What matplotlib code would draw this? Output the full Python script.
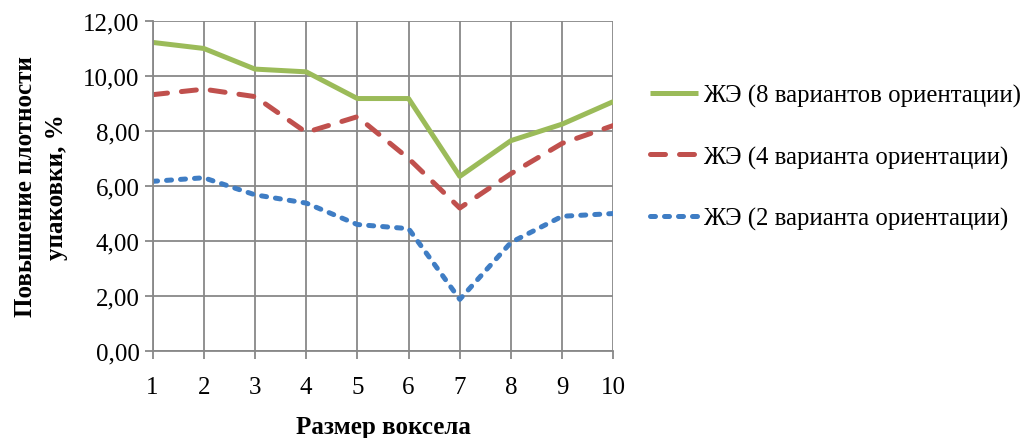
"""
Повышение плотности упаковки в зависимости от размера вокселя.
"""
import matplotlib.pyplot as plt
from matplotlib.ticker import FuncFormatter

# -------------------- Data --------------------
voxel = [1, 2, 3, 4, 5, 6, 7, 8, 9, 10]
zhe_8 = [11.22, 11.00, 10.25, 10.15, 9.18, 9.18, 6.35, 7.65, 8.25, 9.07]
zhe_4 = [9.32, 9.52, 9.25, 7.95, 8.52, 7.00, 5.20, 6.45, 7.55, 8.20]
zhe_2 = [6.17, 6.30, 5.68, 5.38, 4.60, 4.45, 1.88, 3.95, 4.90, 5.00]

labels = [
    "ЖЭ (8 вариантов ориентации)",
    "ЖЭ (4 варианта ориентации)",
    "ЖЭ (2 варианта ориентации)",
]
yticks = [0, 2, 4, 6, 8, 10, 12]

# -------------------- Style --------------------
plt.rcParams["font.family"] = ["Liberation Serif", "DejaVu Serif"]
grid_col = "#888888"

fig = plt.figure(figsize=(10.24, 4.39), dpi=100)
ax = fig.add_axes([0.149, 0.198, 0.450, 0.752])

ax.plot(voxel, zhe_8, color="#9BBB59", lw=3.6, solid_capstyle="butt", label=labels[0])
ax.plot(voxel, zhe_4, color="#C0504D", lw=3.6, linestyle=(0, (3.0, 2.8)),
        dash_capstyle="round", label=labels[1])
ax.plot(voxel, zhe_2, color="#3F7DC4", lw=3.6, linestyle=(0, (1.0, 1.8)),
        dash_capstyle="round", label=labels[2])

ax.set_xlim(1, 10)
ax.set_ylim(0, 12)
ax.set_xticks(voxel)
ax.set_yticks(yticks)
ax.yaxis.set_major_formatter(FuncFormatter(lambda v, p: f"{v:.2f}".replace(".", ",")))

ax.grid(True, color=grid_col, lw=1.3)
ax.set_axisbelow(True)
for s in ["top", "right"]:
    ax.spines[s].set_visible(False)
for s in ["left", "bottom"]:
    ax.spines[s].set_color(grid_col)
    ax.spines[s].set_linewidth(1.3)
ax.tick_params(axis="both", colors=grid_col, width=1.3, length=6,
               labelcolor="black", labelsize=18)
ax.tick_params(axis="x", pad=12)

ax.set_ylabel("Повышение плотности\nупаковки, %", fontsize=18, fontweight="bold",
              linespacing=1.45, labelpad=11)
ax.set_xlabel("Размер воксела", fontsize=18, fontweight="bold", labelpad=12)

fig.legend(loc="upper left", bbox_to_anchor=(650 / 1024, 1 - 85 / 439), frameon=False,
           borderpad=0, borderaxespad=0,
           fontsize=17.8, handlelength=1.95, handletextpad=0.18, labelspacing=1.55)

plt.savefig("out.png", dpi=100)
